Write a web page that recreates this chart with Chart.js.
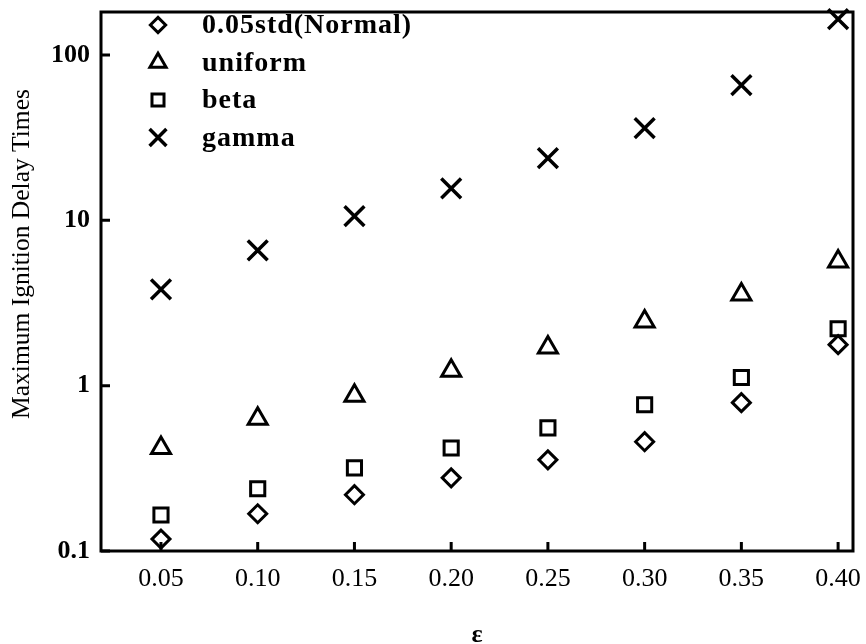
<!DOCTYPE html>
<html>
<head>
<meta charset="utf-8">
<script src="https://cdn.jsdelivr.net/npm/chart.js@4/dist/chart.umd.min.js"></script>
<style>
html, body { margin: 0; padding: 0; background: #fff; }
#wrap { width: 866px; height: 644px; }
</style>
</head>
<body>
<div id="wrap"><canvas id="myChart" width="866" height="644"></canvas></div>
<script>
// 数据
var eps = [0.05, 0.10, 0.15, 0.20, 0.25, 0.30, 0.35, 0.40];
var normalVals = [0.118, 0.168, 0.219, 0.277, 0.356, 0.458, 0.789, 1.77];
var uniformVals = [0.42, 0.63, 0.87, 1.23, 1.70, 2.44, 3.56, 5.64];
var betaVals = [0.165, 0.238, 0.318, 0.42, 0.556, 0.767, 1.12, 2.21];
var gammaVals = [3.82, 6.58, 10.6, 15.6, 23.8, 36.1, 65.8, 165];
var seriesNames = ["0.05std(Normal)", "uniform", "beta", "gamma"];
var xTicks = [0.05, 0.10, 0.15, 0.20, 0.25, 0.30, 0.35, 0.40];
var yTicks = [0.1, 1, 10, 100];
var yTitle = "Maximum Ignition Delay Times";

function toPoints(vals) {
    return eps.map(function (x, i) { return { x: x, y: vals[i] }; });
}

function makeSet(name, vals, style, radius, bw) {
    return {
        label: name,
        data: toPoints(vals),
        pointStyle: style,
        pointRadius: radius,
        pointHoverRadius: radius,
        pointBorderWidth: bw,
        pointBorderColor: "#000",
        pointBackgroundColor: "rgba(0,0,0,0)",
        showLine: false,
        clip: false
    };
}

// 边框 + 向内刻度 + 纵轴标题
var frameTicks = {
    id: "frameTicks",
    afterDatasetsDraw: function (chart) {
        var ctx = chart.ctx, a = chart.chartArea;
        var xs = chart.scales.x, ys = chart.scales.y;
        ctx.save();
        ctx.strokeStyle = "#000";
        ctx.lineWidth = 3;
        ctx.strokeRect(a.left, a.top, a.right - a.left, a.bottom - a.top);
        ctx.beginPath();
        xTicks.forEach(function (v) {
            var px = xs.getPixelForValue(v);
            ctx.moveTo(px, a.bottom);
            ctx.lineTo(px, a.bottom - 9);
        });
        yTicks.forEach(function (v) {
            var py = ys.getPixelForValue(v);
            ctx.moveTo(a.left, py);
            ctx.lineTo(a.left + 9, py);
        });
        ctx.stroke();

        ctx.translate(22, 254);
        ctx.rotate(-Math.PI / 2);
        ctx.font = "25.5px 'Liberation Serif'";
        ctx.textAlign = "center";
        ctx.textBaseline = "middle";
        ctx.fillStyle = "#000";
        ctx.fillText(yTitle, 0, 0);
        ctx.restore();
    }
};

// 图例（画在绘图区内左上角）
var innerLegend = {
    id: "innerLegend",
    afterDraw: function (chart) {
        var ctx = chart.ctx;
        ctx.save();
        ctx.font = "bold 28px 'Liberation Serif'";
        ctx.letterSpacing = "1px";
        ctx.textBaseline = "middle";
        chart.data.datasets.forEach(function (ds, i) {
            var y = 25 + i * 37.5;
            ctx.fillStyle = "rgba(0,0,0,0)";
            ctx.strokeStyle = "#000";
            ctx.lineWidth = ds.pointBorderWidth;
            Chart.helpers.drawPoint(ctx, {
                pointStyle: ds.pointStyle,
                radius: ds.pointRadius * 0.85,
                borderWidth: ds.pointBorderWidth
            }, 158, y);
            ctx.fillStyle = "#000";
            ctx.fillText(ds.label, 202, y + 1);
        });
        ctx.restore();
    }
};

var ctx = document.getElementById("myChart");
var myChart = new Chart(ctx, {
    type: "scatter",
    data: {
        datasets: [
            makeSet(seriesNames[0], normalVals, "rectRot", 9, 3),
            makeSet(seriesNames[1], uniformVals, "triangle", 11, 3),
            makeSet(seriesNames[2], betaVals, "rect", 10, 3),
            makeSet(seriesNames[3], gammaVals, "crossRot", 14, 3.5)
        ]
    },
    options: {
        responsive: false,
        animation: false,
        layout: { autoPadding: false, padding: { top: 12, right: 13, left: 0, bottom: 0 } },
        plugins: {
            legend: { display: false },
            tooltip: { enabled: false }
        },
        scales: {
            x: {
                type: "linear",
                min: 0.019,
                max: 0.4077,
                afterFit: function (s) {
                    s.height = 93;
                    s.paddingLeft = 0;
                    s.paddingRight = 0;
                },
                afterBuildTicks: function (s) {
                    s.ticks = xTicks.map(function (v) { return { value: v }; });
                },
                grid: { display: false, drawTicks: false },
                border: { display: false },
                ticks: {
                    color: "#000",
                    padding: 13,
                    maxRotation: 0,
                    font: { family: "'Liberation Serif'", size: 26 },
                    callback: function (v) { return Number(v).toFixed(2); }
                },
                title: {
                    display: true,
                    text: "ε",
                    color: "#000",
                    font: { family: "'Liberation Serif'", size: 26, weight: "bold", lineHeight: 0.7 },
                    padding: { top: 0, bottom: 0 }
                }
            },
            y: {
                type: "logarithmic",
                min: 0.1,
                max: 182,
                afterFit: function (s) {
                    s.width = 101;
                    s.paddingTop = 0;
                    s.paddingBottom = 0;
                },
                afterBuildTicks: function (s) {
                    s.ticks = yTicks.map(function (v) { return { value: v }; });
                },
                grid: { display: false, drawTicks: false },
                border: { display: false },
                ticks: {
                    color: "#000",
                    padding: 11,
                    font: { family: "'Liberation Serif'", size: 26, weight: "bold" },
                    callback: function (v) { return String(v); }
                }
            }
        }
    },
    plugins: [frameTicks, innerLegend]
});
</script>
</body>
</html>
